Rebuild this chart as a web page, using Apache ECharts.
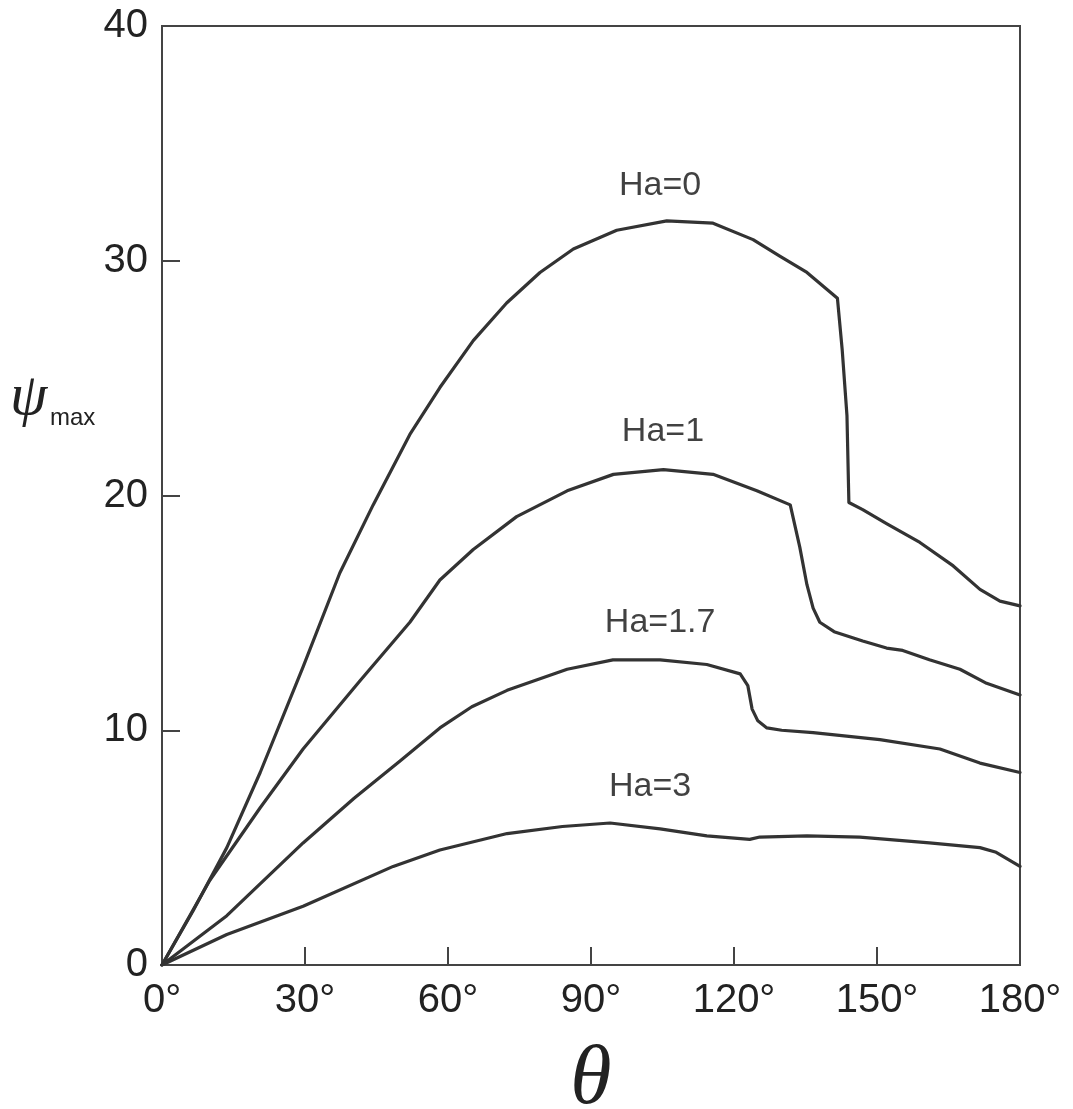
<!DOCTYPE html>
<html>
<head>
<meta charset="utf-8">
<script src="https://cdn.jsdelivr.net/npm/echarts@6/dist/echarts.min.js"></script>
<style>
html,body{margin:0;padding:0;background:#fff;}
#chart{width:1073px;height:1109px;}
</style>
</head>
<body>
<div id="chart"></div>
<script>
// ---- data ----
const xTicks = [0, 30, 60, 90, 120, 150, 180];
const yTicks = [0, 10, 20, 30, 40];

const theta0 = [0, 6.5, 13.6, 20.6, 29.6, 37.3, 44.3, 52, 58.3, 65.3, 72.3, 79.3, 86.3, 95.4, 105.9, 115.6, 124, 129.6, 135.3, 141.7, 142.7, 143.7, 144.1, 147, 152, 159, 166, 171.6, 175.8, 180];
const psi0   = [0, 2.3, 5.0, 8.2, 12.7, 16.7, 19.6, 22.6, 24.6, 26.6, 28.2, 29.5, 30.5, 31.3, 31.7, 31.6, 30.9, 30.2, 29.5, 28.4, 26.2, 23.4, 19.7, 19.4, 18.8, 18.0, 17.0, 16.0, 15.5, 15.3];

const theta1 = [0, 10, 20.6, 29.6, 41.5, 52, 58.3, 65.3, 74.4, 85, 94.7, 105.2, 115.6, 124.8, 131.8, 133.8, 135.3, 136.6, 138, 141, 147, 152, 155.4, 161, 167.4, 173, 180];
const psi1   = [0, 3.6, 6.7, 9.2, 12.1, 14.6, 16.4, 17.7, 19.1, 20.2, 20.9, 21.1, 20.9, 20.2, 19.6, 17.8, 16.2, 15.2, 14.6, 14.2, 13.8, 13.5, 13.4, 13.0, 12.6, 12.0, 11.5];

const theta17 = [0, 13.6, 29.6, 40.3, 50, 58.3, 65, 72.4, 85, 94.6, 104.5, 114.3, 121.3, 122.9, 123.8, 125, 126.9, 130, 136.6, 150.6, 163.2, 171.6, 180];
const psi17   = [0, 2.1, 5.2, 7.1, 8.7, 10.1, 11.0, 11.7, 12.6, 13.0, 13.0, 12.8, 12.4, 11.9, 10.9, 10.4, 10.1, 10.0, 9.9, 9.6, 9.2, 8.6, 8.2];

const theta3 = [0, 13.6, 29.6, 48.5, 58.3, 72.4, 84, 94, 104.5, 114.3, 123.3, 125.4, 135.3, 146.4, 161, 171.6, 175, 180];
const psi3   = [0, 1.3, 2.5, 4.2, 4.9, 5.6, 5.9, 6.05, 5.8, 5.5, 5.35, 5.45, 5.5, 5.45, 5.2, 5.0, 4.8, 4.2];

const seriesNames = ['Ha=0', 'Ha=1', 'Ha=1.7', 'Ha=3'];
const labelTheta = [104.5, 105.1, 104.5, 102.4];
const labelPsi   = [33.2, 22.7, 14.6, 7.6];

// ---- build chart ----
const zip = (a, b) => a.map((v, i) => [v, b[i]]);
const curves = [zip(theta0, psi0), zip(theta1, psi1), zip(theta17, psi17), zip(theta3, psi3)];
const ink = '#333';

const chart = echarts.init(document.getElementById('chart'), null, {renderer: 'canvas'});
const lineSeries = curves.map((d, i) => ({
  name: seriesNames[i],
  type: 'line',
  data: d,
  showSymbol: false,
  symbol: 'none',
  smooth: false,
  lineStyle: {color: ink, width: 3.2, join: 'round', cap: 'round'},
  z: 3
}));

chart.setOption({
  animation: false,
  backgroundColor: '#fff',
  grid: {left: 162, right: 53, top: 26, bottom: 144, containLabel: false, outerBoundsMode: 'none',
         show: true, borderColor: '#444', borderWidth: 2},
  xAxis: {
    type: 'value', min: 0, max: 180, interval: 30,
    axisLine: {show: true, lineStyle: {color: '#444', width: 2}},
    axisTick: {show: true, inside: true, length: 18, lineStyle: {color: '#444', width: 2}},
    splitLine: {show: false},
    axisLabel: {formatter: v => v + '°', fontSize: 40, color: '#222', fontFamily: 'Liberation Sans', margin: 16},
    name: 'θ', nameLocation: 'middle', nameGap: 74,
    nameTextStyle: {fontSize: 84, fontStyle: 'italic', fontFamily: 'Liberation Serif', color: '#222'}
  },
  yAxis: {
    type: 'value', min: 0, max: 40, interval: 10,
    axisLine: {show: true, lineStyle: {color: '#444', width: 2}},
    axisTick: {show: true, inside: true, length: 18, lineStyle: {color: '#444', width: 2}},
    splitLine: {show: false},
    axisLabel: {fontSize: 40, color: '#222', fontFamily: 'Liberation Sans', margin: 14}
  },
  series: lineSeries.concat([{
    type: 'scatter',
    symbolSize: 0,
    data: seriesNames.map((n, i) => [labelTheta[i], labelPsi[i], n]),
    label: {show: true, position: 'inside', formatter: p => p.value[2], fontSize: 34, color: '#111', fontFamily: 'Liberation Sans'},
    silent: true,
    z: 4
  }]),
  graphic: [
    {type: 'text', left: 10, top: 368, style: {text: 'ψ', font: 'italic 60px "Liberation Serif"', fill: '#222'}},
    {type: 'text', left: 50, top: 406, style: {text: 'max', font: '24px "Liberation Sans"', fill: '#222'}}
  ]
});
</script>
</body>
</html>
